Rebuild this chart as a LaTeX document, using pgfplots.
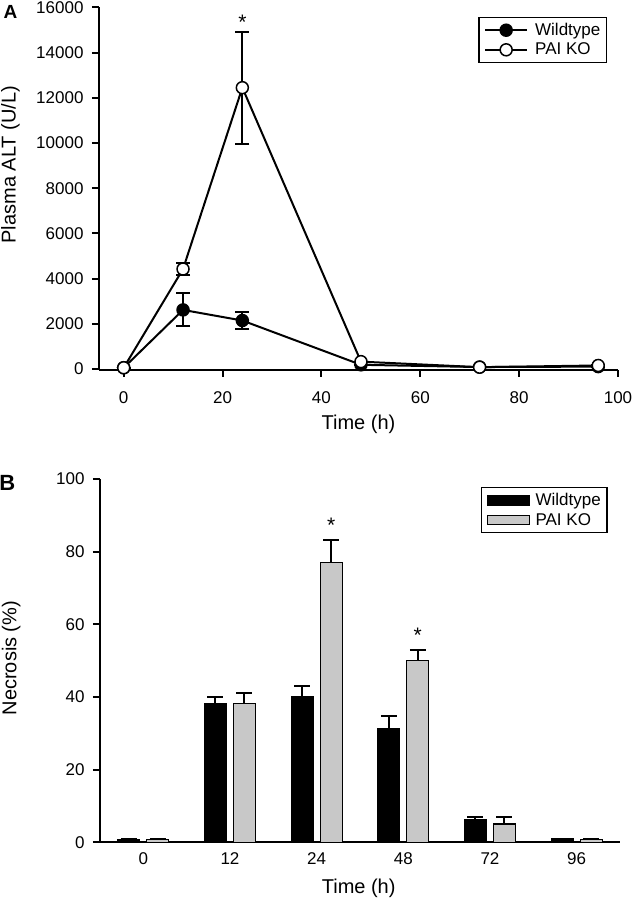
\documentclass[border=0pt]{standalone}
\usepackage{pgfplots}
\pgfplotsset{compat=1.18}
\usepackage{fontspec}
\setmainfont{Liberation Sans}
\definecolor{kogray}{RGB}{200,200,200}
\begin{document}
\begin{tikzpicture}[x=1pt,y=1pt]
\useasboundingbox (0,0) rectangle (633,900);
\pgfplotsset{
  common/.style={
    scale only axis,
    anchor=south west,
    axis x line*=bottom,
    axis y line*=left,
    axis line style={-, line width=2pt},
    tick align=outside,
    major tick length=7pt,
    tick style={line width=2pt, black},
    tick label style={font=\fontsize{17}{19}\selectfont},
    label style={font=\fontsize{20}{23}\selectfont},
    /pgf/number format/assume math mode=true,
    /pgf/number format/1000 sep={},
    scaled y ticks=false,
    clip=false,
  }
}
% ---------------- Panel A ----------------
\begin{axis}[common,
  at={(99pt,530pt)}, width=519pt, height=362.5pt,
  xmin=-5, xmax=100, ymin=-50, ymax=16000,
  xtick={0,20,...,100}, ytick={0,2000,...,16000},
  xticklabel style={yshift=-11pt},
  yticklabel style={xshift=-5pt},
  xlabel={Time (h)}, ylabel={Plasma ALT (U/L)},
  xlabel style={at={(axis description cs:0.5,-0.149)}, anchor=center},
  ylabel style={at={(axis description cs:-0.1705,0.566)}, anchor=center},
  legend style={at={(axis description cs:0.979,0.975)}, anchor=north east,
    draw=black, line width=1.5pt, font=\fontsize{17}{20}\selectfont,
    inner xsep=4pt, inner ysep=4pt, row sep=2pt,
    legend cell align=left},
  legend image code/.code={\path[draw=none,fill=none] (-2pt,0pt) -- (48pt,0pt);\draw[#1, mark repeat=2, mark phase=2] plot coordinates {(0pt,0pt) (21pt,0pt) (42pt,0pt)};},
]
\addplot[black, line width=2pt, mark=*, mark size=6pt, mark options={fill=black, line width=1.5pt},
  error bars/.cd, y dir=both, y explicit,
  error bar style={line width=2pt},
  error mark options={rotate=90, mark size=7pt, line width=2pt}]
  coordinates {
  (0,50) +- (0,0)
  (12,2610) +- (0,730)
  (24,2140) +- (0,375)
  (48,180) +- (0,0)
  (72,80) +- (0,0)
  (96,100) +- (0,0)
  };
\addlegendentry{Wildtype}
\addplot[black, line width=2pt, mark=*, mark size=6pt, mark options={fill=white, line width=1.5pt},
  error bars/.cd, y dir=both, y explicit,
  error bar style={line width=2pt},
  error mark options={rotate=90, mark size=7pt, line width=2pt}]
  coordinates {
  (0,50) +- (0,0)
  (12,4420) +- (0,260)
  (24,12450) +- (0,2480)
  (48,320) +- (0,0)
  (72,75) +- (0,0)
  (96,150) +- (0,0)
  };
\addlegendentry{PAI KO}
\node[anchor=north, inner sep=0pt, font=\fontsize{21}{22}\selectfont] at (axis cs:24,15660) {*};
\node[font=\bfseries\fontsize{19}{20}\selectfont] at (axis description cs:-0.1705,0.989) {A};
\end{axis}
% ---------------- Panel B ----------------
\begin{axis}[common,
  at={(100pt,57.7pt)}, width=520pt, height=363.3pt,
  xmin=-0.5, xmax=5.5, ymin=0, ymax=100,
  xtick={0,1,2,3,4,5}, xticklabels={0,12,24,48,72,96},
  major x tick style={draw=none},
  ytick={0,20,...,100},
  yticklabel style={xshift=-5pt},
  ybar, bar width=22pt,
  xlabel={Time (h)}, ylabel={Necrosis (\%)},
  xlabel style={at={(axis description cs:0.4975,-0.1258)}, anchor=center},
  ylabel style={at={(axis description cs:-0.171,0.507)}, anchor=center},
  legend style={at={(axis description cs:0.976,0.9785)}, anchor=north east,
    draw=black, line width=1.5pt, font=\fontsize{17}{20}\selectfont,
    inner xsep=4pt, inner ysep=4pt, row sep=2pt, legend cell align=left},
]
\addplot[bar shift=-14.5pt, fill=black, draw=black, line width=1.3pt,
  legend image code/.code={\path[draw=none,fill=none] (-2pt,0pt) -- (46pt,0pt);\draw[fill=black, draw=black, line width=1.3pt] (0pt,-4.5pt) rectangle (42pt,4.5pt);},
  error bars/.cd, y dir=plus, y explicit,
  error bar style={line width=2pt},
  error mark options={rotate=90, mark size=8pt, line width=2pt}]
  coordinates {
  (0,0.8) +- (0,0)
  (1,38.2) +- (0,1.9)
  (2,40.2) +- (0,2.8)
  (3,31.2) +- (0,3.7)
  (4,6.3) +- (0,0.8)
  (5,0.9) +- (0,0)
  };
\addlegendentry{Wildtype}
\addplot[bar shift=14.5pt, fill=kogray, draw=black, line width=1.3pt,
  legend image code/.code={\path[draw=none,fill=none] (-2pt,0pt) -- (46pt,0pt);\draw[fill=kogray, draw=black, line width=1.3pt] (0pt,-4.5pt) rectangle (42pt,4.5pt);},
  error bars/.cd, y dir=plus, y explicit,
  error bar style={line width=2pt},
  error mark options={rotate=90, mark size=8pt, line width=2pt}]
  coordinates {
  (0,0.8) +- (0,0)
  (1,38.2) +- (0,2.8)
  (2,77.0) +- (0,6.2)
  (3,50.1) +- (0,2.8)
  (4,5.0) +- (0,2.0)
  (5,0.8) +- (0,0)
  };
\addlegendentry{PAI KO}
\node[anchor=north, inner sep=0pt, font=\fontsize{21}{22}\selectfont] at (axis cs:2.167,89.2) {*};
\node[anchor=north, inner sep=0pt, font=\fontsize{21}{22}\selectfont] at (axis cs:3.167,59.0) {*};
\node[font=\bfseries\fontsize{22}{24}\selectfont] at (axis description cs:-0.178,0.990) {B};
\end{axis}
\end{tikzpicture}
\end{document}
